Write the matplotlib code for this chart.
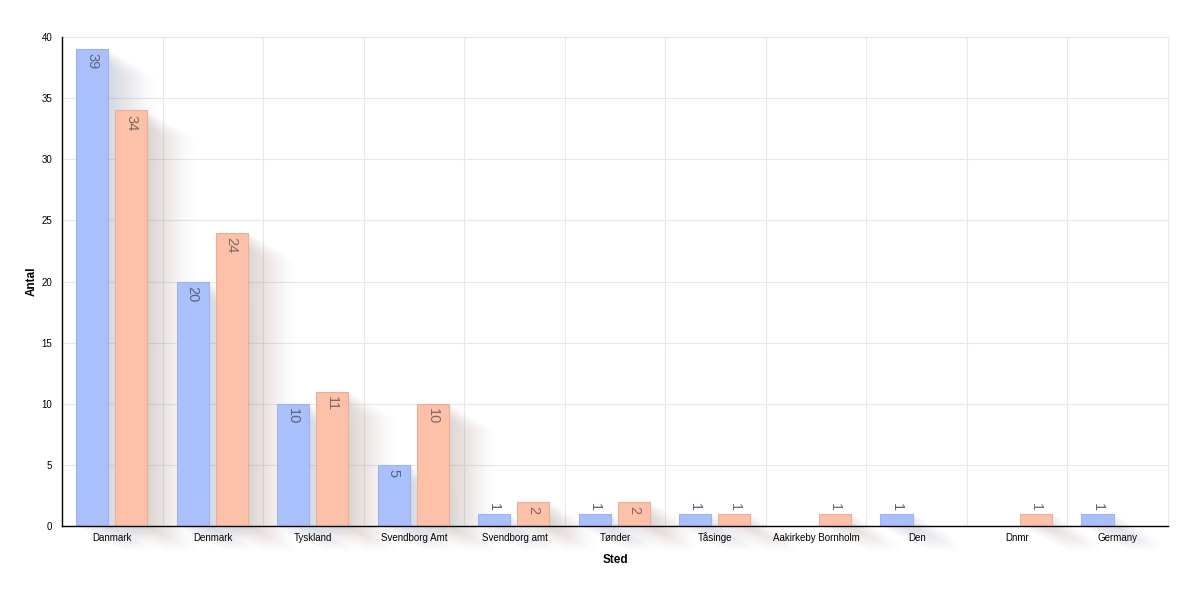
import matplotlib
matplotlib.use('Agg')
import matplotlib.pyplot as plt
import matplotlib.transforms as mtransforms
from matplotlib.patches import Rectangle
import numpy as np

plt.rcParams['font.family'] = ['Liberation Sans', 'DejaVu Sans']

steder = ["Danmark", "Denmark", "Tyskland", "Svendborg Amt", "Svendborg amt",
          "Tønder", "Tåsinge", "Aakirkeby Bornholm", "Den", "Dnmr", "Germany"]
# two series; None = no bar
serie_a = [39, 20, 10, 5, 1, 1, 1, None, 1, None, 1]
serie_b = [34, 24, 11, 10, 2, 2, 1, 1, None, 1, None]

blue = "#a9c0fc"
blue_edge = "#9fb3e6"
orange = "#fdc0a9"
orange_edge = "#e8b09b"

fig = plt.figure(figsize=(12.01, 6.01), dpi=100)
ax = fig.add_axes([62/1201, 1 - 526/601, (1168-62)/1201, (526-37)/601])

x = np.arange(len(steder))
width = 0.32
# bar left edges relative to category centre
left_a = -0.5 + 14/100.5
left_b = -0.5 + 53/100.5


def shadow(ax, x0, h, color):
    # fake drop shadow: stacked shifted copies going down-right
    n = 30
    for k in range(1, n + 1):
        t = k / n
        tr = ax.transData + mtransforms.ScaledTranslation(0.6 * t, -0.33 * t, fig.dpi_scale_trans)
        r = Rectangle((x0, 0), width, h, facecolor=color, edgecolor='none',
                      alpha=0.024 * (1 - t) ** 1.4, transform=tr, zorder=1, clip_on=False)
        ax.add_patch(r)


def draw_series(vals, left, color, edge, shcolor, txtcolor):
    for i, v in enumerate(vals):
        if v is None:
            continue
        x0 = i + left
        shadow(ax, x0, v, shcolor)
        ax.bar(x0, v, width=width, align='edge', color=color, edgecolor=edge,
               linewidth=0.8, zorder=3)
        cx = x0 + width / 2
        if v >= 2:
            ax.annotate(str(v), (cx, v), xytext=(0, -3), textcoords='offset points',
                        rotation=-90, ha='center', va='top', fontsize=10.5,
                        color=txtcolor, zorder=4)
        else:
            ax.annotate(str(v), (cx, v), xytext=(0, 2), textcoords='offset points',
                        rotation=-90, ha='center', va='bottom', fontsize=10.5,
                        color=txtcolor, zorder=4)


draw_series(serie_a, left_a, blue, blue_edge, "#5a6a9a", "#5b6478")
draw_series(serie_b, left_b, orange, orange_edge, "#8a6050", "#7d6a63")

ax.set_xlim(-0.5, len(steder) - 0.5)
ax.set_ylim(0, 40)
ax.set_yticks(range(0, 41, 5))
ax.set_xticks(x)
ax.set_xticklabels(steder, fontsize=7)
for lab in ax.get_xticklabels():
    lab.set_va('baseline')
ax.tick_params(axis='y', labelsize=7, length=0, pad=7)
ax.tick_params(axis='x', length=0, pad=11)

for b in np.arange(0.5, len(steder) - 0.5, 1):
    ax.axvline(b, color="#e8e8e8", linewidth=0.8, zorder=0)
ax.yaxis.grid(True, color="#e8e8e8", linewidth=0.8, zorder=0)
ax.set_axisbelow(True)

for s in ["top", "right"]:
    ax.spines[s].set_color("#e8e8e8")
    ax.spines[s].set_linewidth(0.8)
ax.spines["left"].set_linewidth(1.0)
ax.spines["bottom"].set_linewidth(1.0)
ax.spines["left"].set_zorder(5)
ax.spines["bottom"].set_zorder(5)

ax.set_xlabel("Sted", fontsize=8.5, fontweight='bold', labelpad=8)
ax.set_ylabel("Antal", fontsize=8.5, fontweight='bold', labelpad=3)

fig.savefig("out.png", dpi=100)
